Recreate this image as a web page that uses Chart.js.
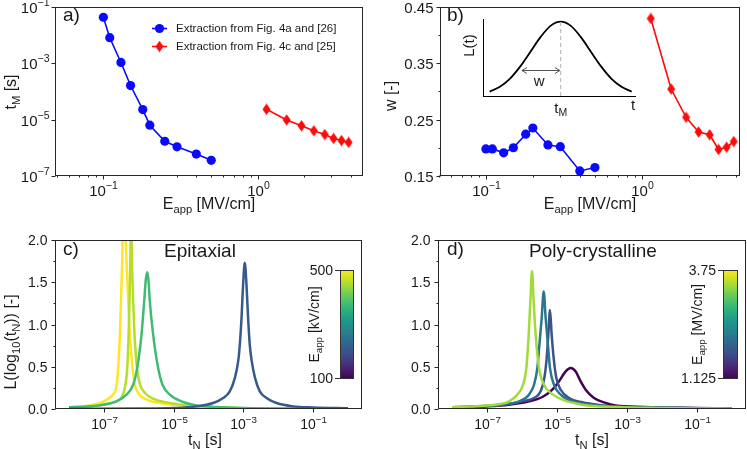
<!DOCTYPE html>
<html>
<head>
<meta charset="utf-8">
<script src="https://cdn.jsdelivr.net/npm/chart.js@4.4.0/dist/chart.umd.min.js"></script>
<style>
  html, body { margin: 0; padding: 0; background: #fff; }
  body { width: 747px; height: 449px; position: relative; overflow: hidden; }
  canvas { position: absolute; }
</style>
</head>
<body>
<canvas id="chartA" width="373" height="215" style="left:0;top:0;width:373px;height:215px"></canvas>
<canvas id="chartB" width="374" height="215" style="left:373px;top:0;width:374px;height:215px"></canvas>
<canvas id="inset" width="190" height="110" style="left:455px;top:8px;width:190px;height:110px"></canvas>
<canvas id="chartC" width="373" height="234" style="left:0;top:215px;width:373px;height:234px"></canvas>
<canvas id="chartD" width="374" height="234" style="left:373px;top:215px;width:374px;height:234px"></canvas>
<script>
'use strict';

// ---- panel a / b : extracted t_M and w versus applied field (MV/cm)
const fieldBlue = [0.1, 0.11, 0.13, 0.15, 0.18, 0.2, 0.25, 0.3, 0.4, 0.5];
const tmBlue    = [4.2e-2, 7.9e-3, 1.05e-3, 1.6e-4, 2.25e-5, 6.3e-6, 1.7e-6, 1.08e-6, 6.0e-7, 3.6e-7];
const wBlue     = [0.198, 0.198, 0.191, 0.200, 0.224, 0.235, 0.205, 0.202, 0.159, 0.165];
const fieldRed  = [1.14, 1.54, 1.92, 2.31, 2.72, 3.10, 3.49, 3.88];
const tmRed     = [2.3e-5, 9.7e-6, 6.0e-6, 4.0e-6, 2.95e-6, 2.14e-6, 1.8e-6, 1.55e-6];
const wRed      = [0.429, 0.304, 0.254, 0.228, 0.223, 0.197, 0.201, 0.211];
const legendLabels = ['Extraction from Fig. 4a and [26]', 'Extraction from Fig. 4c and [25]'];

// inset sketch of b)
const insetT = [0.044, 0.111, 0.178, 0.244, 0.311, 0.378, 0.444, 0.511, 0.578, 0.644, 0.711, 0.778, 0.844, 0.911, 0.978];
const insetL = [0.056, 0.119, 0.226, 0.381, 0.572, 0.765, 0.911, 0.965, 0.911, 0.765, 0.572, 0.381, 0.226, 0.119, 0.056];
const insetPeak = [0.511, 0.965];
const insetArrow = [0.256, 0.506, 0.342];

// ---- panel c : epitaxial distributions (x = log10 tN)
const epiYellowX = [-8.0, -7.4, -7.1, -6.88, -6.73, -6.64, -6.59, -6.54, -6.51, -6.48, -6.43, -6.34, -6.30, -6.255, -6.18, -6.11, -6.02, -5.83, -5.40, -4.73, -4.25, -3.0, -1.5, 0];
const epiYellowY = [0.02, 0.043, 0.071, 0.122, 0.177, 0.268, 0.484, 0.878, 1.272, 1.665, 2.4, 1.665, 1.272, 0.878, 0.484, 0.287, 0.19, 0.122, 0.071, 0.04, 0.024, 0.01, 0.004, 0.002];
const epiLimeX = [-8.0, -7.4, -7.1, -6.8, -6.64, -6.49, -6.40, -6.33, -6.29, -6.265, -6.245, -6.22, -6.19, -6.16, -6.12, -6.05, -5.96, -5.82, -5.59, -5.11, -4.54, -4.0, -3.0, -1.5, 0];
const epiLimeY = [0.016, 0.03, 0.047, 0.07, 0.09, 0.138, 0.248, 0.484, 0.878, 1.272, 1.665, 2.25, 1.665, 1.272, 0.878, 0.484, 0.287, 0.19, 0.122, 0.071, 0.04, 0.024, 0.01, 0.004, 0.002];
const epiGreenX = [-8.0, -7.5, -7.115, -6.64, -6.35, -6.16, -6.045, -5.921, -5.844, -5.80, -5.758, -5.72, -5.682, -5.586, -5.443, -5.319, -5.109, -4.775, -4.345, -3.8, -3.0, -2.0, -1.0, 0];
const epiGreenY = [0.02, 0.03, 0.043, 0.09, 0.17, 0.287, 0.484, 0.878, 1.272, 1.52, 1.618, 1.52, 1.272, 0.878, 0.484, 0.287, 0.17, 0.09, 0.043, 0.025, 0.012, 0.006, 0.003, 0.002];
const epiBlueX = [-8.0, -6.0, -5.0, -4.345, -3.868, -3.58, -3.39, -3.246, -3.15, -3.103, -3.054, -3.009, -2.96, -2.911, -2.865, -2.817, -2.76, -2.665, -2.53, -2.338, -2.05, -1.576, -1.0, 0];
const epiBlueY = [0.002, 0.005, 0.012, 0.031, 0.071, 0.13, 0.209, 0.366, 0.563, 0.76, 1.075, 1.468, 1.732, 1.468, 1.075, 0.76, 0.563, 0.366, 0.209, 0.13, 0.071, 0.031, 0.018, 0.01];

// ---- panel d : poly-crystalline distributions
const polyLimeX = [-8.0, -7.5, -6.94, -6.5, -6.371, -6.133, -5.971, -5.876, -5.81, -5.762, -5.714, -5.667, -5.61, -5.514, -5.371, -5.18, -4.848, -4.276, -3.324, -2.0, -1.0, 0];
const polyLimeY = [0.02, 0.03, 0.043, 0.07, 0.09, 0.17, 0.287, 0.484, 0.878, 1.272, 1.634, 1.272, 0.878, 0.484, 0.287, 0.19, 0.11, 0.051, 0.024, 0.012, 0.006, 0.004];
const polyTealX = [-8.0, -7.514, -6.562, -6.086, -5.8, -5.657, -5.562, -5.495, -5.438, -5.381, -5.324, -5.267, -5.2, -5.086, -4.895, -4.562, -3.99, -3.324, -2.0, -1.0, 0];
const polyTealY = [0.02, 0.028, 0.051, 0.09, 0.17, 0.287, 0.484, 0.8, 1.075, 1.39, 1.075, 0.8, 0.484, 0.287, 0.17, 0.09, 0.051, 0.028, 0.014, 0.008, 0.005];
const polyBlueX = [-8.0, -7.514, -6.562, -5.99, -5.657, -5.467, -5.362, -5.295, -5.248, -5.2, -5.152, -5.095, -5.019, -4.895, -4.657, -4.276, -3.705, -3.324, -2.0, -1.0, 0];
const polyBlueY = [0.018, 0.028, 0.051, 0.09, 0.13, 0.209, 0.366, 0.602, 0.878, 1.173, 0.878, 0.602, 0.366, 0.228, 0.13, 0.079, 0.043, 0.028, 0.014, 0.008, 0.005];
const polyPurpleX = [-8.0, -7.038, -6.371, -5.8, -5.419, -5.133, -4.943, -4.752, -4.61, -4.467, -4.324, -4.181, -3.943, -3.61, -3.324, -2.5, -1.5, 0];
const polyPurpleY = [0.018, 0.031, 0.051, 0.09, 0.142, 0.228, 0.327, 0.445, 0.484, 0.445, 0.327, 0.228, 0.13, 0.071, 0.043, 0.025, 0.014, 0.007];

// ---- ticks
const fieldTicks = [0.05, 0.06, 0.07, 0.08, 0.09, 0.1, 0.2, 0.3, 0.4, 0.5, 0.6, 0.7, 0.8, 0.9, 1, 2, 3, 4];
const fieldTickLabels = ['', '', '', '', '', '10⁻¹', '', '', '', '', '', '', '', '', '10⁰', '', '', ''];
const tmTicks = [1e-7, 1e-5, 1e-3, 1e-1];
const tmTickLabels = ['10⁻⁷', '10⁻⁵', '10⁻³', '10⁻¹'];
const wTicks = [0.15, 0.2, 0.25, 0.3, 0.35, 0.4, 0.45];
const wTickLabels = ['0.15', '', '0.25', '', '0.35', '', '0.45'];
const tnTicks = [1e-7, 1e-5, 1e-3, 1e-1];
const tnTickLabels = ['10⁻⁷', '10⁻⁵', '10⁻³', '10⁻¹'];
const lTicks = [0, 0.25, 0.5, 0.75, 1, 1.25, 1.5, 1.75, 2];
const lTickLabels = ['0.0', '', '0.5', '', '1.0', '', '1.5', '', '2.0'];
const epiBarLabels = ['100', '500'];
const polyBarLabels = ['1.125', '3.75'];

const viridis = ['#440154', '#482475', '#414487', '#355f8d', '#2a788e', '#21918c', '#22a884', '#44bf70', '#7ad151', '#bddf26', '#fde725'];
const FONT = "'Liberation Sans', Arial, sans-serif";
const INK = '#1a1a1a';
const BLUE = '#0a0aff', RED = '#ff0a0a';
const SUP = { '⁻': '−', '⁰': '0', '¹': '1', '²': '2', '³': '3', '⁴': '4', '⁵': '5', '⁶': '6', '⁷': '7', '⁸': '8', '⁹': '9' };

function pts(xs, ys) { return xs.map((x, i) => ({ x: x, y: ys[i] })); }
function logPts(lx, ys) { return lx.map((v, i) => ({ x: Math.pow(10, v), y: ys[i] })); }

// thin diamond marker
const diamond = document.createElement('canvas');
diamond.width = 9; diamond.height = 12;
(function () {
  const c = diamond.getContext('2d');
  c.fillStyle = RED;
  c.beginPath();
  c.moveTo(4.5, 0.3); c.lineTo(8.5, 6); c.lineTo(4.5, 11.7); c.lineTo(0.5, 6);
  c.closePath(); c.fill();
})();

// text with sub/superscript parts: [text, 0 normal | 1 sub | -1 sup]
function richText(ctx, x, y, parts, size, align, rotate) {
  ctx.save();
  ctx.translate(x, y);
  if (rotate) ctx.rotate(-Math.PI / 2);
  const widths = parts.map(p => {
    ctx.font = (p[1] ? size * 0.7 : size) + 'px ' + FONT;
    return ctx.measureText(p[0]).width;
  });
  const total = widths.reduce((a, b) => a + b, 0);
  let cx = align === 'center' ? -total / 2 : (align === 'right' ? -total : 0);
  ctx.fillStyle = INK;
  ctx.textBaseline = 'middle';
  ctx.textAlign = 'left';
  parts.forEach((p, i) => {
    ctx.font = (p[1] ? size * 0.7 : size) + 'px ' + FONT;
    const dy = p[1] === 1 ? size * 0.3 : (p[1] === -1 ? -size * 0.38 : 0);
    ctx.fillText(p[0], cx, dy);
    cx += widths[i];
  });
  ctx.restore();
}

// "10⁻⁷" -> [['10',0],['−7',-1]]
function tickParts(label) {
  let base = '', sup = '';
  for (const ch of label) {
    if (SUP[ch]) sup += SUP[ch]; else base += ch;
  }
  return sup ? [[base, 0], [sup, -1]] : [[base, 0]];
}

function axis(type, min, max, vals, labels, isX, fit) {
  return {
    type: type, min: min, max: max,
    position: isX ? 'bottom' : 'left',
    grid: { display: false },
    border: { display: false },
    afterBuildTicks: s => { s.ticks = vals.map(v => ({ value: v })); },
    afterFit: s => { if (isX) s.height = fit; else s.width = fit; },
    ticks: { display: false, autoSkip: false, callback: (v, i) => labels[i] }
  };
}

// frame (all four spines), outward tick marks and tick labels
const frameTicks = {
  id: 'frameTicks',
  afterDraw(chart, args, opts) {
    const ctx = chart.ctx, a = chart.chartArea;
    ctx.save();
    ctx.strokeStyle = '#262626';
    ctx.lineWidth = 1;
    const l = Math.round(a.left) + 0.5, t = Math.round(a.top) + 0.5;
    const r = Math.round(a.right) - 0.5, b = Math.round(a.bottom) - 0.5;
    ctx.strokeRect(l, t, r - l, b - t);
    Object.values(chart.scales).forEach(s => {
      s.ticks.forEach(tk => {
        const len = tk.label ? 4 : 2;
        const p = Math.round(s.getPixelForValue(tk.value)) + 0.5;
        ctx.beginPath();
        if (s.isHorizontal()) { ctx.moveTo(p, b); ctx.lineTo(p, b + len); }
        else { ctx.moveTo(l, p); ctx.lineTo(l - len, p); }
        ctx.stroke();
        if (tk.label) {
          if (s.isHorizontal()) richText(ctx, p, b + opts.xGap, tickParts(tk.label), opts.size, 'center');
          else richText(ctx, l - opts.yGap, p + 1, tickParts(tk.label), opts.size, 'right');
        }
      });
    });
    ctx.restore();
  }
};

function panelLabel(ctx, text, x, y, size, align) {
  ctx.save();
  ctx.fillStyle = INK;
  ctx.font = size + 'px ' + FONT;
  ctx.textAlign = align || 'left';
  ctx.textBaseline = 'middle';
  ctx.fillText(text, x, y);
  ctx.restore();
}

function colorbar(ctx, x, y, w, h, labels, title, titleX) {
  ctx.save();
  const g = ctx.createLinearGradient(0, y + h, 0, y);
  viridis.forEach((c, i) => g.addColorStop(i / (viridis.length - 1), c));
  ctx.fillStyle = g;
  ctx.fillRect(x, y, w, h);
  ctx.strokeStyle = '#333';
  ctx.lineWidth = 1;
  ctx.strokeRect(x + 0.5, y + 0.5, w - 1, h - 1);
  ctx.beginPath();
  ctx.moveTo(x, y + h - 0.5); ctx.lineTo(x - 5, y + h - 0.5);
  ctx.moveTo(x, y + 0.5); ctx.lineTo(x - 5, y + 0.5);
  ctx.stroke();
  ctx.fillStyle = INK;
  ctx.font = '14px ' + FONT;
  ctx.textAlign = 'right';
  ctx.textBaseline = 'middle';
  ctx.fillText(labels[0], x - 7, y + h);
  ctx.fillText(labels[1], x - 7, y + 1);
  ctx.restore();
  richText(ctx, titleX, y + h / 2, title, 14, 'center', true);
}

const baseOptions = (pad, tickOpts) => ({
  responsive: false, animation: false, devicePixelRatio: 1,
  layout: { padding: pad },
  plugins: { legend: { display: false }, tooltip: { enabled: false }, frameTicks: tickOpts || {} }
});

// ---------------- panel a
const decorA = {
  id: 'decorA',
  afterDraw(chart) {
    const ctx = chart.ctx;
    panelLabel(ctx, 'a)', 63, 16, 19);
    // legend
    ctx.save();
    ctx.lineWidth = 1.6;
    ctx.strokeStyle = BLUE;
    ctx.beginPath(); ctx.moveTo(152, 28.5); ctx.lineTo(167, 28.5); ctx.stroke();
    ctx.fillStyle = BLUE;
    ctx.beginPath(); ctx.arc(159.5, 28.5, 4.6, 0, Math.PI * 2); ctx.fill();
    ctx.strokeStyle = RED;
    ctx.beginPath(); ctx.moveTo(152, 46.5); ctx.lineTo(167, 46.5); ctx.stroke();
    ctx.drawImage(diamond, 159.5 - 4.5, 46.5 - 6);
    ctx.restore();
    panelLabel(ctx, legendLabels[0], 176, 28.5, 11.5);
    panelLabel(ctx, legendLabels[1], 176, 46.5, 11.5);
    richText(ctx, 209, 205, [['E', 0], ['app', 1], [' [MV/cm]', 0]], 16, 'center');
    richText(ctx, 12, 92, [['t', 0], ['M', 1], [' [s]', 0]], 16, 'center', true);
  }
};

new Chart(document.getElementById('chartA'), {
  type: 'line',
  data: {
    datasets: [
      { data: pts(fieldBlue, tmBlue), borderColor: BLUE, backgroundColor: BLUE, borderWidth: 1.6,
        pointStyle: 'circle', pointRadius: 4.6, pointBorderWidth: 0 },
      { data: pts(fieldRed, tmRed), borderColor: RED, backgroundColor: RED, borderWidth: 1.6,
        pointStyle: diamond, pointRadius: 5 }
    ]
  },
  options: Object.assign(baseOptions({ top: 6, right: 10, left: 0, bottom: 0 }, { xGap: 16, yGap: 6, size: 15 }), {
    scales: {
      x: axis('logarithmic', 0.0486, 4.81, fieldTicks, fieldTickLabels, true, 39),
      y: axis('logarithmic', 1e-7, 1e-1, tmTicks, tmTickLabels, false, 55)
    }
  }),
  plugins: [frameTicks, decorA]
});

// ---------------- panel b
const decorB = {
  id: 'decorB',
  afterDraw(chart) {
    const ctx = chart.ctx;
    panelLabel(ctx, 'b)', 74, 16, 19);
    richText(ctx, 217, 205, [['E', 0], ['app', 1], [' [MV/cm]', 0]], 16, 'center');
    richText(ctx, 19, 96, [['w [-]', 0]], 16, 'center', true);
  }
};

new Chart(document.getElementById('chartB'), {
  type: 'line',
  data: {
    datasets: [
      { data: pts(fieldBlue, wBlue), borderColor: BLUE, backgroundColor: BLUE, borderWidth: 1.6,
        pointStyle: 'circle', pointRadius: 4.6, pointBorderWidth: 0 },
      { data: pts(fieldRed, wRed), borderColor: RED, backgroundColor: RED, borderWidth: 1.6,
        pointStyle: diamond, pointRadius: 5 }
    ]
  },
  options: Object.assign(baseOptions({ top: 6, right: 6, left: 0, bottom: 0 }, { xGap: 16, yGap: 7, size: 15 }), {
    scales: {
      x: axis('logarithmic', 0.0508, 4.28, fieldTicks, fieldTickLabels, true, 39),
      y: axis('linear', 0.15, 0.45, wTicks, wTickLabels, false, 67)
    }
  }),
  plugins: [frameTicks, decorB]
});

// ---------------- inset of b
const decorInset = {
  id: 'decorInset',
  afterDraw(chart) {
    const ctx = chart.ctx, a = chart.chartArea;
    const xs = chart.scales.x, ys = chart.scales.y;
    const px = xs.getPixelForValue(insetPeak[0]);
    ctx.save();
    ctx.strokeStyle = '#bdbdbd';
    ctx.lineWidth = 1.2;
    ctx.setLineDash([4, 3]);
    ctx.beginPath(); ctx.moveTo(px, a.bottom); ctx.lineTo(px, ys.getPixelForValue(insetPeak[1])); ctx.stroke();
    ctx.setLineDash([]);
    // double arrow for w
    const ay = Math.round(ys.getPixelForValue(insetArrow[2])) + 0.5;
    const x1 = xs.getPixelForValue(insetArrow[0]), x2 = xs.getPixelForValue(insetArrow[1]);
    ctx.strokeStyle = '#555';
    ctx.lineWidth = 1;
    ctx.beginPath();
    ctx.moveTo(x1, ay); ctx.lineTo(x2, ay);
    ctx.moveTo(x1 + 5, ay - 3); ctx.lineTo(x1, ay); ctx.lineTo(x1 + 5, ay + 3);
    ctx.moveTo(x2 - 5, ay - 3); ctx.lineTo(x2, ay); ctx.lineTo(x2 - 5, ay + 3);
    ctx.stroke();
    ctx.restore();
    richText(ctx, a.left - 13, (a.top + a.bottom) / 2 - 12, [['L(t)', 0]], 15, 'center', true);
    richText(ctx, px, a.bottom + 13, [['t', 0], ['M', 1]], 15, 'center');
    richText(ctx, a.right - 2, a.bottom + 10, [['t', 0]], 15, 'center');
    richText(ctx, xs.getPixelForValue(0.37), ys.getPixelForValue(0.18), [['w', 0]], 15, 'center');
  }
};

new Chart(document.getElementById('inset'), {
  type: 'line',
  data: {
    datasets: [{ data: pts(insetT, insetL), borderColor: '#000', borderWidth: 1.8, pointRadius: 0,
      cubicInterpolationMode: 'monotone' }]
  },
  options: Object.assign(baseOptions({ top: 11, right: 10, left: 0, bottom: 0 }), {
    scales: {
      x: { type: 'linear', min: 0, max: 1, grid: { display: false }, border: { color: '#000', width: 1 },
        ticks: { display: false }, afterFit: s => { s.height = 22; } },
      y: { type: 'linear', min: 0, max: 1, grid: { display: false }, border: { color: '#000', width: 1 },
        ticks: { display: false }, afterFit: s => { s.width = 28; } }
    }
  }),
  plugins: [decorInset]
});

// ---------------- panel c
function curve(lx, ly, color) {
  return { data: logPts(lx, ly), borderColor: color, borderWidth: 2.5, pointRadius: 0,
    cubicInterpolationMode: 'monotone', clip: 0 };
}

const decorC = {
  id: 'decorC',
  afterDraw(chart) {
    const ctx = chart.ctx;
    panelLabel(ctx, 'c)', 63, 35, 19);
    panelLabel(ctx, 'Epitaxial', 200, 37, 19, 'center');
    colorbar(ctx, 340, 55, 14, 109, epiBarLabels, [['E', 0], ['app', 1], [' [kV/cm]', 0]], 315);
    richText(ctx, 205, 226, [['t', 0], ['N', 1], [' [s]', 0]], 16, 'center');
    richText(ctx, 12, 127, [['L(log', 0], ['10', 1], ['(t', 0], ['N', 1], [')) [-]', 0]], 16, 'center', true);
  }
};

new Chart(document.getElementById('chartC'), {
  type: 'line',
  data: {
    datasets: [
      curve(epiBlueX, epiBlueY, '#38598c'),
      curve(epiGreenX, epiGreenY, '#3fbc73'),
      curve(epiLimeX, epiLimeY, '#b5de2b'),
      curve(epiYellowX, epiYellowY, '#fde725')
    ]
  },
  options: Object.assign(baseOptions({ top: 25, right: 11, left: 0, bottom: 0 }, { xGap: 17, yGap: 8, size: 14 }), {
    scales: {
      x: axis('logarithmic', 3.98e-9, 2.51, tnTicks, tnTickLabels, true, 40),
      y: axis('linear', 0, 2, lTicks, lTickLabels, false, 55)
    }
  }),
  plugins: [frameTicks, decorC]
});

// ---------------- panel d
const decorD = {
  id: 'decorD',
  afterDraw(chart) {
    const ctx = chart.ctx;
    panelLabel(ctx, 'd)', 74, 35, 19);
    panelLabel(ctx, 'Poly-crystalline', 220, 37, 19, 'center');
    colorbar(ctx, 350, 55, 15, 109, polyBarLabels, [['E', 0], ['app', 1], [' [MV/cm]', 0]], 325);
    richText(ctx, 219, 226, [['t', 0], ['N', 1], [' [s]', 0]], 16, 'center');
  }
};

new Chart(document.getElementById('chartD'), {
  type: 'line',
  data: {
    datasets: [
      curve(polyLimeX, polyLimeY, '#a2da37'),
      curve(polyTealX, polyTealY, '#2a768e'),
      curve(polyBlueX, polyBlueY, '#3b528b'),
      curve(polyPurpleX, polyPurpleY, '#440154')
    ]
  },
  options: Object.assign(baseOptions({ top: 25, right: 1, left: 0, bottom: 0 }, { xGap: 17, yGap: 8, size: 14 }), {
    scales: {
      x: axis('logarithmic', 3.98e-9, 2.51, tnTicks, tnTickLabels, true, 40),
      y: axis('linear', 0, 2, lTicks, lTickLabels, false, 65)
    }
  }),
  plugins: [frameTicks, decorD]
});
</script>
</body>
</html>
